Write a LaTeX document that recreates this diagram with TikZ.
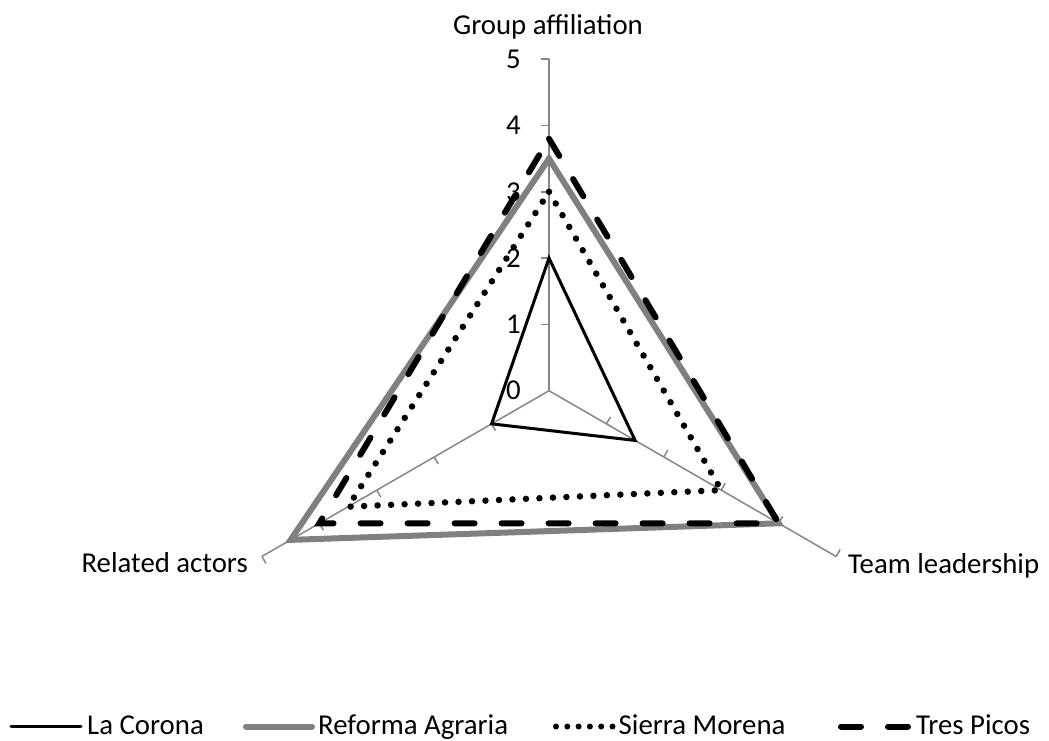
\documentclass[tikz,border=0pt]{standalone}
\usepackage{fontspec}
\setmainfont{Carlito}
\usetikzlibrary{calc}
\definecolor{axisgray}{HTML}{868686}
\definecolor{seriesgray}{HTML}{808080}

\begin{document}
\begin{tikzpicture}[x=1pt,y=1pt,font=\fontsize{28.8}{34}\selectfont,
	axis/.style={axisgray,line width=1.5pt},
	corona/.style={black,line width=3pt},
	reforma/.style={seriesgray,line width=6pt},
	sierra/.style={black,line width=6.5pt,line cap=round,dash pattern=on 0pt off 13.5pt},
	sierraleg/.style={sierra,line width=6pt,dash pattern=on 0pt off 11.3pt},
	picos/.style={black,line width=6pt,line cap=round,dash pattern=on 20pt off 27pt}]
	\useasboundingbox (0,0) rectangle (1049,740);
	\coordinate (c) at (549,349.3);
	\def\r{66.3}
	% axes with tick marks
	\foreach \ang/\ax in {90/ga,-30/tl,210/ra} {
		\draw[axis] (c) -- ++(\ang:5*\r) coordinate (\ax);
		\foreach \k in {1,...,5}
			\draw[axis] ($(c)+(\ang:\k*\r)$) -- ++(\ang+90:8);
	}
	% scale
	\foreach \k in {0,...,5}
		\node[anchor=east,inner sep=0pt] (v\k) at ($(c)+(-28,\k*\r)$) {\k};
	% values: group affiliation / team leadership / related actors
	\foreach \s/\va/\vb/\vc in {cor/2/1.5/1, ref/3.5/4/4.5, sie/3/3/3.5, tre/3.8/4/4} {
		\coordinate (\s1) at ($(c)+(90:\va*\r)$);
		\coordinate (\s2) at ($(c)+(-30:\vb*\r)$);
		\coordinate (\s3) at ($(c)+(210:\vc*\r)$);
	}
	\draw[corona] (cor1) -- (cor2) -- (cor3) -- cycle;
	\draw[reforma] (ref1) -- (ref2) -- (ref3) -- cycle;
	\draw[sierra] (sie1) -- (sie2) -- (sie3) -- cycle;
	\draw[picos] (tre1) -- (tre2) -- (tre3) -- cycle;
	% axis labels
	\node[anchor=base] (lga) at (548,705) {Group affiliation};
	\node[anchor=base west,inner sep=0pt] (ltl) at (848,167) {Team leadership};
	\node[anchor=base east,inner sep=0pt] (lra) at (248,168) {Related actors};
	% legend
	\foreach \st/\xa/\xb/\txt [count=\i] in {corona/11/81/La Corona, reforma/246/312/Reforma Agraria, sierraleg/556/612.5/Sierra Morena, picos/841/910/Tres Picos} {
		\coordinate (ls\i) at (\xa,13.5);
		\draw[\st,line cap=round] (ls\i) -- ++(\xb-\xa,0);
		\node[anchor=base west,inner sep=0pt] (leg\i) at (\xb+6,5.5) {\txt};
	}
\end{tikzpicture}
\end{document}
